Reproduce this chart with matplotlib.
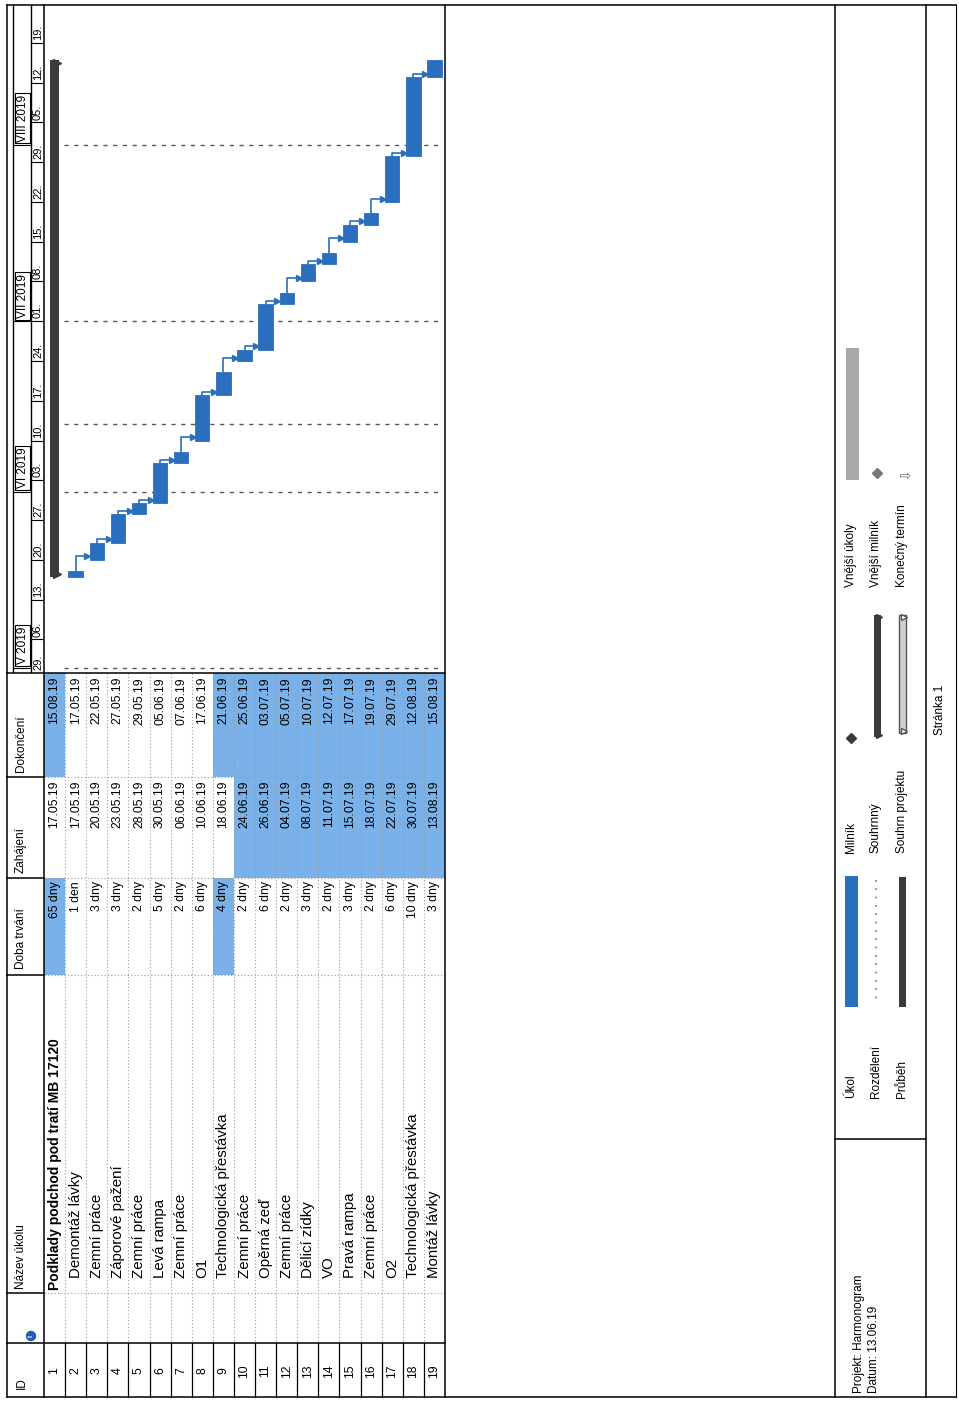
import matplotlib
matplotlib.use("Agg")
import matplotlib.pyplot as plt
import matplotlib.dates as mdates
from matplotlib.patches import Rectangle, Circle
from datetime import datetime

plt.rcParams['font.family'] = ['Liberation Sans', 'DejaVu Sans']

# data read from the (rotated) MS Project printout
task_ids = list(range(1, 20))
task_names = ["Podklady podchod pod tratí MB 17120", "Demontáž lávky", "Zemní práce",
              "Záporové pažení", "Zemní práce", "Levá rampa", "Zemní práce", "O1",
              "Technologická přestávka", "Zemní práce", "Opěrná zeď", "Zemní práce",
              "Dělicí zídky", "VO", "Pravá rampa", "Zemní práce", "O2",
              "Technologická přestávka", "Montáž lávky"]
durations = ["65 dny", "1 den", "3 dny", "3 dny", "2 dny", "5 dny", "2 dny", "6 dny", "4 dny",
             "2 dny", "6 dny", "2 dny", "3 dny", "2 dny", "3 dny", "2 dny", "6 dny", "10 dny",
             "3 dny"]
starts = ["17.05.19", "17.05.19", "20.05.19", "23.05.19", "28.05.19", "30.05.19", "06.06.19",
          "10.06.19", "18.06.19", "24.06.19", "26.06.19", "04.07.19", "08.07.19", "11.07.19",
          "15.07.19", "18.07.19", "22.07.19", "30.07.19", "13.08.19"]
finishes = ["15.08.19", "17.05.19", "22.05.19", "27.05.19", "29.05.19", "05.06.19", "07.06.19",
            "17.06.19", "21.06.19", "25.06.19", "03.07.19", "05.07.19", "10.07.19", "12.07.19",
            "17.07.19", "19.07.19", "29.07.19", "12.08.19", "15.08.19"]
summary_ids = [1]
dur_changed = [1, 9]
start_changed = [10, 11, 12, 13, 14, 15, 16, 17, 18, 19]
finish_changed = [1, 9, 10, 11, 12, 13, 14, 15, 16, 17, 18, 19]

month_labels = ["V 2019", "VI 2019", "VII 2019", "VIII 2019"]
month_starts = ["01.05.19", "01.06.19", "01.07.19", "01.08.19"]
week_starts = ["29.04.19", "06.05.19", "13.05.19", "20.05.19", "27.05.19", "03.06.19",
               "10.06.19", "17.06.19", "24.06.19", "01.07.19", "08.07.19", "15.07.19",
               "22.07.19", "29.07.19", "05.08.19", "12.08.19", "19.08.19"]
status_date = "13.06.19"

legend_col1 = ["Úkol", "Rozdělení", "Průběh"]
legend_col2 = ["Milník", "Souhrnný", "Souhrn projektu"]
legend_col3 = ["Vnější úkoly", "Vnější milník", "Konečný termín"]
project_info = ["Projekt: Harmonogram", "Datum: 13.06.19"]
page_label = "Stránka 1"

BLUE = "#2a6fbd"
HILITE = "#79b1e8"
DARK = "#3a3a3a"


def d(s):
    return mdates.date2num(datetime.strptime(s, "%d.%m.%y"))


st = [d(s) for s in starts]
fn = [d(s) + 1 for s in finishes]

W, H = 959, 1406
fig = plt.figure(figsize=(W / 100, H / 100), dpi=100)


def box(x0, y0, x1, y1):
    return [x0 / W, 1 - y1 / H, (x1 - x0) / W, (y1 - y0) / H]


# page axes in pixel units (text is rotated, page is printed sideways)
ax = fig.add_axes([0, 0, 1, 1])
ax.set_xlim(0, W)
ax.set_ylim(H, 0)
ax.axis("off")

LEFT, TOP, RIGHT, BOTTOM = 7, 5, 445, 1397
HDR = 44                     # table header column edge
ROW = (RIGHT - HDR) / 19.0
SPLIT = 673                  # table / timescale border
COL_FIN, COL_START, COL_DUR, COL_NAME, COL_IND, COL_ID = 673, 777, 878, 975, 1293, 1343


def row_x(i):
    return HDR + ROW * (i - 0.5)


# highlighted cells
for ids, y0, y1 in [(dur_changed, COL_DUR, COL_NAME), (start_changed, COL_START, COL_DUR),
                    (finish_changed, COL_FIN, COL_START)]:
    for i in ids:
        ax.add_patch(Rectangle((row_x(i) - ROW / 2, y0), ROW, y1 - y0, color=HILITE,
                               lw=0, zorder=1))

lk = dict(color="black", lw=1.1, zorder=3)
dot = dict(color="#9a9a9a", lw=0.8, ls=(0, (1, 2)), zorder=2)

# outer frames
ax.plot([LEFT, 956], [TOP, TOP], **lk)
ax.plot([LEFT, 956], [BOTTOM, BOTTOM], **lk)
ax.plot([LEFT, LEFT], [TOP, BOTTOM], **lk)
ax.plot([RIGHT, RIGHT], [TOP, BOTTOM], **lk)
ax.plot([HDR, HDR], [TOP, BOTTOM], **lk)
ax.plot([LEFT, RIGHT], [SPLIT, SPLIT], **lk)
ax.plot([LEFT, RIGHT], [COL_ID, COL_ID], **lk)
for yb in [COL_START, COL_DUR, COL_NAME, COL_IND]:
    ax.plot([LEFT, HDR], [yb, yb], **lk)
    ax.plot([HDR, RIGHT], [yb, yb], **dot)
for k in range(1, 19):
    xb = HDR + ROW * k
    ax.plot([xb, xb], [SPLIT, COL_ID], **dot)
    ax.plot([xb, xb], [COL_ID, BOTTOM], color="black", lw=0.9, zorder=3)

# header texts
hfs = 8.5
ax.text(22, BOTTOM - 8, "ID", rotation=90, ha="center", va="bottom", fontsize=hfs)
ax.add_patch(Circle((31, 1336), 4.5, color="#1f5fa8", zorder=4))
ax.text(31, 1336, "i", rotation=90, ha="center", va="center", fontsize=5, color="white",
        fontweight="bold", zorder=5)
ax.text(21, COL_IND - 4, "Název úkolu", rotation=90, ha="center", va="bottom", fontsize=hfs)
ax.text(21, COL_NAME - 6, "Doba trvání", rotation=90, ha="center", va="bottom", fontsize=hfs)
ax.text(21, COL_DUR - 5, "Zahájení", rotation=90, ha="center", va="bottom", fontsize=hfs)
ax.text(21, COL_START - 5, "Dokončení", rotation=90, ha="center", va="bottom", fontsize=hfs)

# table rows
tfs = 8.8
for i, name, dur, s, f in zip(task_ids, task_names, durations, starts, finishes):
    x = row_x(i)
    ax.text(x, 1371, str(i), rotation=90, ha="center", va="center", fontsize=tfs)
    summ = i in summary_ids
    ax.text(x, COL_IND - 3 if summ else COL_IND - 15, name, rotation=90, ha="center",
            va="bottom", fontsize=10 if summ else 10.8,
            fontweight="bold" if summ else "normal", zorder=4)
    ax.text(x, COL_DUR + 3, dur, rotation=90, ha="center", va="top", fontsize=tfs, zorder=4)
    ax.text(x, COL_START + 3, s, rotation=90, ha="center", va="top", fontsize=tfs, zorder=4)
    ax.text(x, COL_FIN + 4, f, rotation=90, ha="center", va="top", fontsize=tfs, zorder=4)

# gantt area: x = task row, y = date (later dates upward)
t0 = mdates.date2num(datetime(2019, 4, 30, 2))
t1 = mdates.date2num(datetime(2019, 8, 25, 16))
ax_g = fig.add_axes(box(HDR, TOP, RIGHT, SPLIT))
ax_g.set_xlim(0.5, 19.5)
ax_g.set_ylim(t0, t1)
ax_g.axis("off")

for m in month_starts + [status_date]:
    ax_g.axhline(d(m), xmin=0.05, xmax=0.985, color="#555555", lw=1.0, ls=(0, (3, 4)),
                 zorder=1)

BW = 0.68
for i in task_ids:
    s, e = st[i - 1], fn[i - 1]
    if i in summary_ids:
        ax_g.bar(i, e - s, bottom=s, width=0.4, color=DARK, zorder=3)
        ax_g.plot([1.12, 1.12], [s + 0.5, e - 0.5], ls="none", marker=">", ms=6,
                  color=DARK, zorder=3)
    else:
        ax_g.bar(i, e - s, bottom=s, width=BW, color=BLUE, edgecolor=BLUE, lw=0.6, zorder=3)

# finish-to-start links
for i in task_ids[1:-1]:
    e, s = fn[i - 1], st[i]
    yl = max(e, s) + 0.6
    xe = i + 1 - BW / 2 - 0.1
    ax_g.plot([i, i, xe], [e, yl, yl], color=BLUE, lw=1.2, zorder=2,
              solid_joinstyle="round")
    ax_g.plot(xe, yl, marker=">", ms=4.5, color=BLUE, zorder=2)

# timescale header
ax_ts = fig.add_axes(box(LEFT, TOP, HDR, SPLIT), sharey=ax_g)
ax_ts.set_xlim(LEFT, HDR)
ax_ts.axis("off")
TIER = 31
ax_ts.axvline(13, color="black", lw=1.0)
ax_ts.axvline(TIER, color="black", lw=1.0)
for w in week_starts:
    y = d(w)
    ax_ts.plot([TIER, HDR], [y, y], color="black", lw=0.8)
    ax_ts.text((TIER + HDR) / 2 + 0.5, max(y, t0) + 0.5, w[:3], rotation=90, ha="center",
               va="bottom", fontsize=8, clip_on=True)
for lab, m in zip(month_labels, month_starts):
    y = d(m)
    ax_ts.plot([13, TIER], [y, y], color="black", lw=0.8)
    ax_ts.text((13 + TIER) / 2 + 0.5, y + 0.6, lab, rotation=90, ha="center", va="bottom",
               fontsize=8.5, bbox=dict(boxstyle="square,pad=0.15", fc="white", ec="black",
                                       lw=0.8))

# legend panel
LX0, LX1, LSPLIT = 835, 926, 1139
ax.plot([LX0, LX0], [TOP, BOTTOM], **lk)
ax.plot([LX1, LX1], [TOP, BOTTOM], **lk)
ax.plot([956, 956], [TOP, BOTTOM], color="black", lw=0.8)
ax.plot([LX0, LX1], [LSPLIT, LSPLIT], **lk)

lx = [851, 876, 902]
lfs = 8.5
for labels, yb in [(legend_col1, 1098), (legend_col2, 853), (legend_col3, 587)]:
    for x, lab in zip(lx, labels):
        ax.text(x, yb, lab, rotation=90, ha="center", va="bottom", fontsize=lfs)

# legend symbols
ax.add_patch(Rectangle((845, 876), 13, 131, color=BLUE, lw=0))
ax.plot([876, 876], [880, 1005], color="#777777", lw=1.2, ls=(0, (1, 4)))
ax.add_patch(Rectangle((899, 877), 7, 130, color=DARK, lw=0))
ax.plot(851, 738, marker="D", ms=5, color=DARK)
ax.add_patch(Rectangle((874, 615), 7, 122, color=DARK, lw=0))
ax.plot([879, 879], [617, 735], ls="none", marker=">", ms=5, color=DARK)
ax.add_patch(Rectangle((899, 615), 7, 118, fc="#d0d0d0", ec="#555555", lw=1))
ax.plot([904, 904], [617, 731], ls="none", marker=">", ms=5, mfc="white", mec="#555555")
ax.add_patch(Rectangle((846, 348), 13, 132, color="#a8a8a8", lw=0))
ax.plot(877, 473, marker="D", ms=5, color="#777777")
ax.text(906, 473, "⇩", rotation=90, ha="center", va="center", fontsize=9,
        family=["DejaVu Sans"], color="#555555")

# project info and page number
ax.text(859, 1393, project_info[0], rotation=90, ha="center", va="bottom", fontsize=8.5)
ax.text(874, 1393, project_info[1], rotation=90, ha="center", va="bottom", fontsize=8.5)
ax.text(940, 710, page_label, rotation=90, ha="center", va="center", fontsize=8.5)

fig.savefig("out.png", dpi=100, facecolor="white")
